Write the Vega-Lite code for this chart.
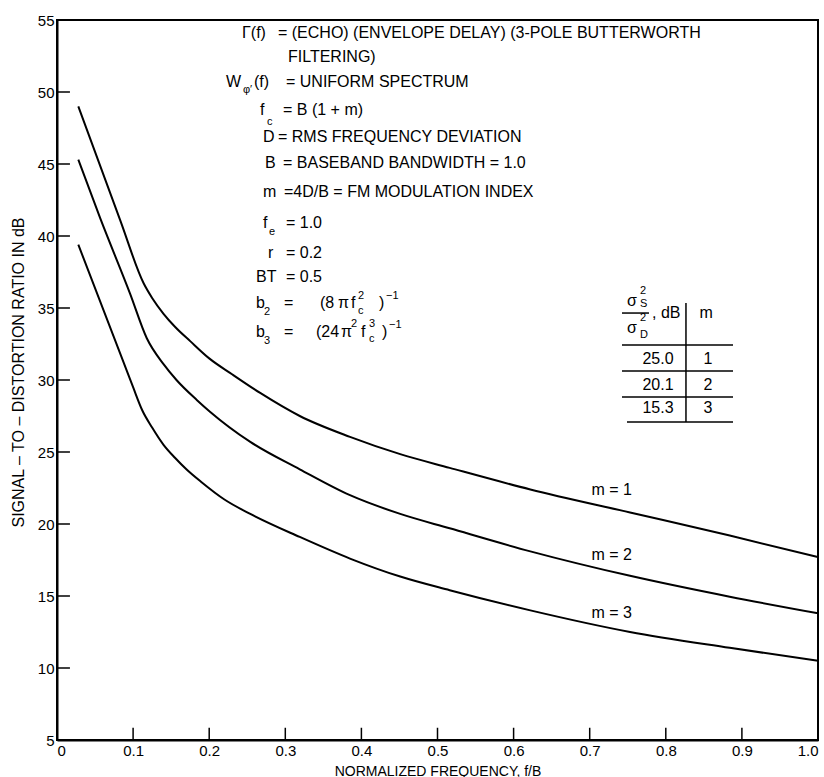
{
  "$schema": "https://vega.github.io/schema/vega-lite/v6.json",
  "width": 761,
  "height": 720,
  "autosize": {"type": "none"},
  "padding": {"left": 57, "top": 20, "right": 6, "bottom": 37},
  "background": "white",
  "config": {
    "font": "Liberation Sans",
    "view": {"stroke": "black", "strokeWidth": 2},
    "axis": {
      "domainColor": "black",
      "domainWidth": 2,
      "ticks": false,
      "grid": false,
      "labelColor": "black",
      "labelFontSize": 15,
      "titleColor": "black",
      "titleFontWeight": "normal",
      "titleFontSize": 14
    }
  },
  "datasets": {
    "curves": [
      {"m": 1, "f": 0.028, "v": 49.0}, {"m": 1, "f": 0.083, "v": 41.1}, {"m": 1, "f": 0.114, "v": 36.7},
      {"m": 1, "f": 0.125, "v": 35.7}, {"m": 1, "f": 0.14, "v": 34.6}, {"m": 1, "f": 0.155, "v": 33.7},
      {"m": 1, "f": 0.175, "v": 32.7}, {"m": 1, "f": 0.2, "v": 31.5}, {"m": 1, "f": 0.23, "v": 30.4},
      {"m": 1, "f": 0.267, "v": 29.1}, {"m": 1, "f": 0.319, "v": 27.5}, {"m": 1, "f": 0.385, "v": 26.05},
      {"m": 1, "f": 0.451, "v": 24.85}, {"m": 1, "f": 0.516, "v": 23.9}, {"m": 1, "f": 0.622, "v": 22.4},
      {"m": 1, "f": 0.753, "v": 20.8}, {"m": 1, "f": 0.884, "v": 19.2}, {"m": 1, "f": 1.0, "v": 17.7},
      {"m": 2, "f": 0.028, "v": 45.3}, {"m": 2, "f": 0.057, "v": 41.2}, {"m": 2, "f": 0.096, "v": 36.0},
      {"m": 2, "f": 0.118, "v": 32.9}, {"m": 2, "f": 0.14, "v": 31.1}, {"m": 2, "f": 0.157, "v": 30.0},
      {"m": 2, "f": 0.184, "v": 28.6}, {"m": 2, "f": 0.201, "v": 27.8}, {"m": 2, "f": 0.254, "v": 25.7},
      {"m": 2, "f": 0.319, "v": 23.8}, {"m": 2, "f": 0.385, "v": 22.0}, {"m": 2, "f": 0.451, "v": 20.7},
      {"m": 2, "f": 0.516, "v": 19.7}, {"m": 2, "f": 0.622, "v": 18.1}, {"m": 2, "f": 0.753, "v": 16.4},
      {"m": 2, "f": 0.884, "v": 14.95}, {"m": 2, "f": 1.0, "v": 13.8},
      {"m": 3, "f": 0.028, "v": 39.4}, {"m": 3, "f": 0.087, "v": 31.3}, {"m": 3, "f": 0.1, "v": 29.5},
      {"m": 3, "f": 0.112, "v": 27.9}, {"m": 3, "f": 0.125, "v": 26.7}, {"m": 3, "f": 0.14, "v": 25.5},
      {"m": 3, "f": 0.155, "v": 24.6}, {"m": 3, "f": 0.17, "v": 23.8}, {"m": 3, "f": 0.19, "v": 22.9},
      {"m": 3, "f": 0.22, "v": 21.7}, {"m": 3, "f": 0.254, "v": 20.7}, {"m": 3, "f": 0.319, "v": 19.1},
      {"m": 3, "f": 0.385, "v": 17.6}, {"m": 3, "f": 0.451, "v": 16.35}, {"m": 3, "f": 0.516, "v": 15.4},
      {"m": 3, "f": 0.622, "v": 14.0}, {"m": 3, "f": 0.753, "v": 12.5}, {"m": 3, "f": 0.884, "v": 11.4},
      {"m": 3, "f": 1.0, "v": 10.5}
    ],
    "ann": [
      {"k": "n", "f": 0.2431, "v": 54.10, "t": "Γ(f)"},
      {"k": "n", "f": 0.2904, "v": 54.10, "t": "= (ECHO) (ENVELOPE DELAY) (3-POLE BUTTERWORTH"},
      {"k": "n", "f": 0.3035, "v": 52.43, "t": "FILTERING)"},
      {"k": "n", "f": 0.2221, "v": 50.69, "t": "W"},
      {"k": "n", "f": 0.2589, "v": 50.69, "t": "(f)"},
      {"k": "n", "f": 0.3009, "v": 50.69, "t": "= UNIFORM SPECTRUM"},
      {"k": "n", "f": 0.2668, "v": 48.75, "t": "f"},
      {"k": "n", "f": 0.2970, "v": 48.75, "t": "= B (1 + m)"},
      {"k": "n", "f": 0.2707, "v": 46.88, "t": "D"},
      {"k": "n", "f": 0.2904, "v": 46.88, "t": "= RMS FREQUENCY DEVIATION"},
      {"k": "n", "f": 0.2733, "v": 45.07, "t": "B"},
      {"k": "n", "f": 0.2970, "v": 45.07, "t": "= BASEBAND BANDWIDTH = 1.0"},
      {"k": "n", "f": 0.2707, "v": 43.06, "t": "m"},
      {"k": "n", "f": 0.2983, "v": 43.06, "t": "=4D/B = FM MODULATION INDEX"},
      {"k": "n", "f": 0.2707, "v": 40.90, "t": "f"},
      {"k": "n", "f": 0.3009, "v": 40.90, "t": "= 1.0"},
      {"k": "n", "f": 0.2773, "v": 38.82, "t": "r"},
      {"k": "n", "f": 0.3009, "v": 38.82, "t": "= 0.2"},
      {"k": "n", "f": 0.2615, "v": 37.15, "t": "BT"},
      {"k": "n", "f": 0.3009, "v": 37.15, "t": "= 0.5"},
      {"k": "n", "f": 0.2615, "v": 35.35, "t": "b"},
      {"k": "n", "f": 0.2983, "v": 35.35, "t": "="},
      {"k": "n", "f": 0.3456, "v": 35.35, "t": "(8"},
      {"k": "n", "f": 0.3693, "v": 35.35, "t": "π"},
      {"k": "n", "f": 0.3863, "v": 35.35, "t": "f"},
      {"k": "n", "f": 0.4231, "v": 35.35, "t": ")"},
      {"k": "n", "f": 0.2615, "v": 33.33, "t": "b"},
      {"k": "n", "f": 0.2983, "v": 33.33, "t": "="},
      {"k": "n", "f": 0.3403, "v": 33.33, "t": "(24"},
      {"k": "n", "f": 0.3732, "v": 33.33, "t": "π"},
      {"k": "n", "f": 0.3994, "v": 33.33, "t": "f"},
      {"k": "n", "f": 0.4271, "v": 33.33, "t": ")"},
      {"k": "n", "f": 0.7490, "v": 35.49, "t": "σ"},
      {"k": "n", "f": 0.7490, "v": 33.61, "t": "σ"},
      {"k": "n", "f": 0.7819, "v": 34.65, "t": ", dB"},
      {"k": "s", "f": 0.2444, "v": 50.14, "t": "φ′"},
      {"k": "s", "f": 0.2760, "v": 47.92, "t": "c"},
      {"k": "s", "f": 0.2786, "v": 40.28, "t": "e"},
      {"k": "s", "f": 0.2720, "v": 34.72, "t": "2"},
      {"k": "s", "f": 0.3955, "v": 35.83, "t": "2"},
      {"k": "s", "f": 0.3955, "v": 34.79, "t": "c"},
      {"k": "s", "f": 0.4323, "v": 35.83, "t": "−1"},
      {"k": "s", "f": 0.2720, "v": 32.71, "t": "3"},
      {"k": "s", "f": 0.3863, "v": 33.89, "t": "2"},
      {"k": "s", "f": 0.4099, "v": 33.89, "t": "3"},
      {"k": "s", "f": 0.4099, "v": 32.85, "t": "c"},
      {"k": "s", "f": 0.4363, "v": 33.82, "t": "−1"},
      {"k": "s", "f": 0.7661, "v": 36.18, "t": "2"},
      {"k": "s", "f": 0.7661, "v": 35.28, "t": "S"},
      {"k": "s", "f": 0.7661, "v": 34.31, "t": "2"},
      {"k": "s", "f": 0.7661, "v": 33.13, "t": "D"},
      {"k": "c", "f": 0.7897, "v": 31.46, "t": "25.0"},
      {"k": "c", "f": 0.7897, "v": 29.65, "t": "20.1"},
      {"k": "c", "f": 0.7897, "v": 28.06, "t": "15.3"},
      {"k": "c", "f": 0.8555, "v": 31.46, "t": "1"},
      {"k": "c", "f": 0.8555, "v": 29.65, "t": "2"},
      {"k": "c", "f": 0.8555, "v": 28.06, "t": "3"},
      {"k": "c", "f": 0.853, "v": 34.65, "t": "m"},
      {"k": "c", "f": 0.729, "v": 22.36, "t": "m = 1"},
      {"k": "c", "f": 0.729, "v": 17.85, "t": "m = 2"},
      {"k": "c", "f": 0.729, "v": 13.82, "t": "m = 3"}
    ],
    "rules": [
      {"f": 0.8265, "f2": 0.8265, "v": 27.08, "v2": 35.35},
      {"f": 0.7424, "f2": 0.8883, "v": 32.43, "v2": 32.43},
      {"f": 0.7424, "f2": 0.8883, "v": 30.63, "v2": 30.63},
      {"f": 0.7424, "f2": 0.8883, "v": 28.82, "v2": 28.82},
      {"f": 0.7490, "f2": 0.8883, "v": 27.08, "v2": 27.08},
      {"f": 0.7424, "f2": 0.7779, "v": 34.65, "v2": 34.65}
    ],
    "ticks": [
      {"f": 0.1, "f2": 0.1, "v": 5, "v2": 5.85},
      {"f": 0.2, "f2": 0.2, "v": 5, "v2": 5.85},
      {"f": 0.3, "f2": 0.3, "v": 5, "v2": 5.85},
      {"f": 0.4, "f2": 0.4, "v": 5, "v2": 5.85},
      {"f": 0.5, "f2": 0.5, "v": 5, "v2": 5.85},
      {"f": 0.6, "f2": 0.6, "v": 5, "v2": 5.85},
      {"f": 0.7, "f2": 0.7, "v": 5, "v2": 5.85},
      {"f": 0.8, "f2": 0.8, "v": 5, "v2": 5.85},
      {"f": 0.9, "f2": 0.9, "v": 5, "v2": 5.85},
      {"f": 0, "f2": 0.017, "v": 10, "v2": 10},
      {"f": 0, "f2": 0.017, "v": 15, "v2": 15},
      {"f": 0, "f2": 0.017, "v": 20, "v2": 20},
      {"f": 0, "f2": 0.017, "v": 25, "v2": 25},
      {"f": 0, "f2": 0.017, "v": 30, "v2": 30},
      {"f": 0, "f2": 0.017, "v": 35, "v2": 35},
      {"f": 0, "f2": 0.017, "v": 40, "v2": 40},
      {"f": 0, "f2": 0.017, "v": 45, "v2": 45},
      {"f": 0, "f2": 0.017, "v": 50, "v2": 50}
    ]
  },
  "encoding": {
    "x": {
      "field": "f", "type": "quantitative",
      "scale": {"domain": [0, 1], "nice": false, "zero": false},
      "axis": {
        "values": [0, 0.1, 0.2, 0.3, 0.4, 0.5, 0.6, 0.7, 0.8, 0.9, 1.0],
        "labelExpr": "datum.value == 0 ? '0' : format(datum.value, '.1f')",
        "labelPadding": 3,
        "title": "NORMALIZED FREQUENCY, f/B",
        "titleY": 31,
        "titleBaseline": "middle"
      }
    },
    "y": {
      "field": "v", "type": "quantitative",
      "scale": {"domain": [5, 55], "nice": false, "zero": false},
      "axis": {
        "values": [5, 10, 15, 20, 25, 30, 35, 40, 45, 50, 55],
        "labelPadding": 3,
        "title": "SIGNAL – TO – DISTORTION RATIO IN dB",
        "titleFontSize": 16,
        "titleX": -39,
        "titleY": 352,
        "titleBaseline": "middle"
      }
    }
  },
  "layer": [
    {
      "data": {"name": "curves"},
      "mark": {"type": "line", "color": "black", "strokeWidth": 2, "interpolate": "monotone"},
      "encoding": {"detail": {"field": "m", "type": "nominal"}}
    },
    {
      "data": {"name": "ticks"},
      "mark": {"type": "rule", "color": "black", "strokeWidth": 1.5},
      "encoding": {"x2": {"field": "f2"}, "y2": {"field": "v2"}}
    },
    {
      "data": {"name": "rules"},
      "mark": {"type": "rule", "color": "black", "strokeWidth": 1.5},
      "encoding": {"x2": {"field": "f2"}, "y2": {"field": "v2"}}
    },
    {
      "data": {"name": "ann"},
      "transform": [{"filter": "datum.k == 'n'"}],
      "mark": {"type": "text", "align": "left", "baseline": "middle", "fontSize": 16, "color": "black"},
      "encoding": {"text": {"field": "t"}}
    },
    {
      "data": {"name": "ann"},
      "transform": [{"filter": "datum.k == 's'"}],
      "mark": {"type": "text", "align": "left", "baseline": "middle", "fontSize": 11, "color": "black"},
      "encoding": {"text": {"field": "t"}}
    },
    {
      "data": {"name": "ann"},
      "transform": [{"filter": "datum.k == 'c'"}],
      "mark": {"type": "text", "align": "center", "baseline": "middle", "fontSize": 16, "color": "black"},
      "encoding": {"text": {"field": "t"}}
    }
  ]
}
